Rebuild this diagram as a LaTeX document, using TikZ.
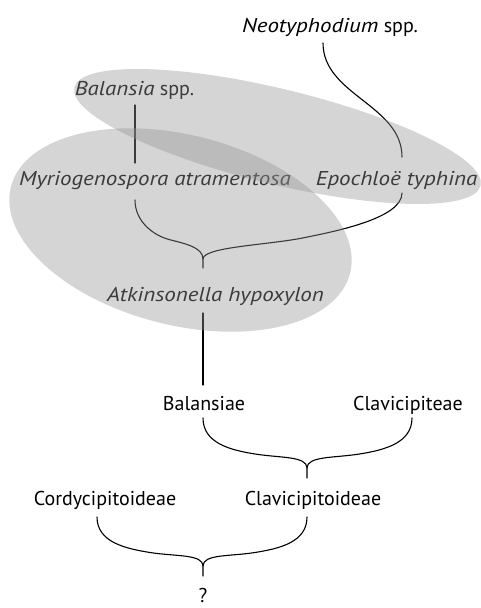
\documentclass[tikz,border=0pt]{standalone}
\usepackage{fontspec}
\setmainfont{PT Sans}[ItalicFeatures={FakeStretch=1.15}]
\usetikzlibrary{calc}
\definecolor{shade}{RGB}{149,149,149}
\tikzset{
  lbl/.style={inner sep=0pt, anchor=base, font=\fontsize{20}{24}\selectfont},
  link/.style={line width=1.1pt, line cap=round, line join=round},
  blob/.style={fill=shade, fill opacity=0.4}
}
\begin{document}
\begin{tikzpicture}[x=1pt,y=-1pt]
\useasboundingbox (0,0) rectangle (481,608);
% labels
\node[lbl] (neo) at (330,32) {\textit{Neotyphodium} spp.};
\node[lbl] (bal) at (134.5,95) {\textit{Balansia} spp.};
\node[lbl] (myr) at (155,185) {\textit{Myriogenospora atramentosa}};
\node[lbl] (epo) at (396.5,185) {\textit{Epochloë typhina}};
\node[lbl] (atk) at (215.5,301) {\textit{Atkinsonella hypoxylon}};
\node[lbl] (bsi) at (204,410) {Balansiae};
\node[lbl] (clt) at (408,410) {Clavicipiteae};
\node[lbl] (cor) at (105,505) {Cordycipitoideae};
\node[lbl] (clv) at (313,505) {Clavicipitoideae};
\node[lbl] (q) at (203,602) {?};
% simple links
\draw[link] ($(bal.base)+(0.5,10)$) -- ($(myr.base)+(-20,-22)$);
\draw[link] ($(neo.base)+(-7,11)$) .. controls +(0,52) and +(0,-52) .. ($(epo.base)+(5.5,-28)$);
\draw[link] ($(atk.base)+(-12.5,12)$) -- ($(bsi.base)+(-1,-25)$);
% brace 1
\coordinate (b1L) at ($(myr.base)+(-20,15)$);
\coordinate (b1R) at ($(epo.base)+(5.5,8)$);
\coordinate (b1T) at ($(atk.base)+(-12.5,-33)$);
\coordinate (b1J) at ($(b1T)+(0,-9)$);
\draw[link] (b1L) .. controls +(0,22) and +(-15,-4) .. ($(b1L)!.5!(b1J)+(0,10)$)
  .. controls +(15,4) and +(0,-12) .. (b1J) -- (b1T);
\draw[link] (b1R) .. controls +(0,25) and +(35,-7) .. ($(b1R)!.5!(b1J)+(0,12)$)
  .. controls +(-35,7) and +(0,-12) .. (b1J);
% brace 2
\coordinate (b2L) at ($(bsi.base)+(-1,8)$);
\coordinate (b2R) at ($(clt.base)+(4,8)$);
\coordinate (b2T) at ($(clv.base)+(-6,-27)$);
\coordinate (b2J) at ($(b2T)+(0,-10)$);
\draw[link] (b2L) .. controls +(0,25) and +(-25,-4) .. ($(b2L)!.5!(b2J)+(0,11)$)
  .. controls +(25,4) and +(0,-12) .. (b2J) -- (b2T);
\draw[link] (b2R) .. controls +(0,25) and +(25,-4) .. ($(b2R)!.5!(b2J)+(0,11)$)
  .. controls +(-25,4) and +(0,-12) .. (b2J);
% brace 3
\coordinate (b3L) at ($(cor.base)+(-8,12)$);
\coordinate (b3R) at ($(clv.base)+(-6,12)$);
\coordinate (b3T) at ($(q.base)+(0,-26)$);
\coordinate (b3J) at ($(b3T)+(0,-10)$);
\draw[link] (b3L) .. controls +(0,25) and +(-25,-4) .. ($(b3L)!.5!(b3J)+(0,11)$)
  .. controls +(25,4) and +(0,-12) .. (b3J) -- (b3T);
\draw[link] (b3R) .. controls +(0,25) and +(25,-4) .. ($(b3R)!.5!(b3J)+(0,11)$)
  .. controls +(-25,4) and +(0,-12) .. (b3J);
% translucent ellipses on top
\fill[blob, shift={(277.5,136.5)}, rotate=-13.6] (0,0) ellipse [x radius=209, y radius=47.6];
\fill[blob, shift={(180.5,230)}, rotate=-14.3] (0,0) ellipse [x radius=175, y radius=95];
\end{tikzpicture}
\end{document}
